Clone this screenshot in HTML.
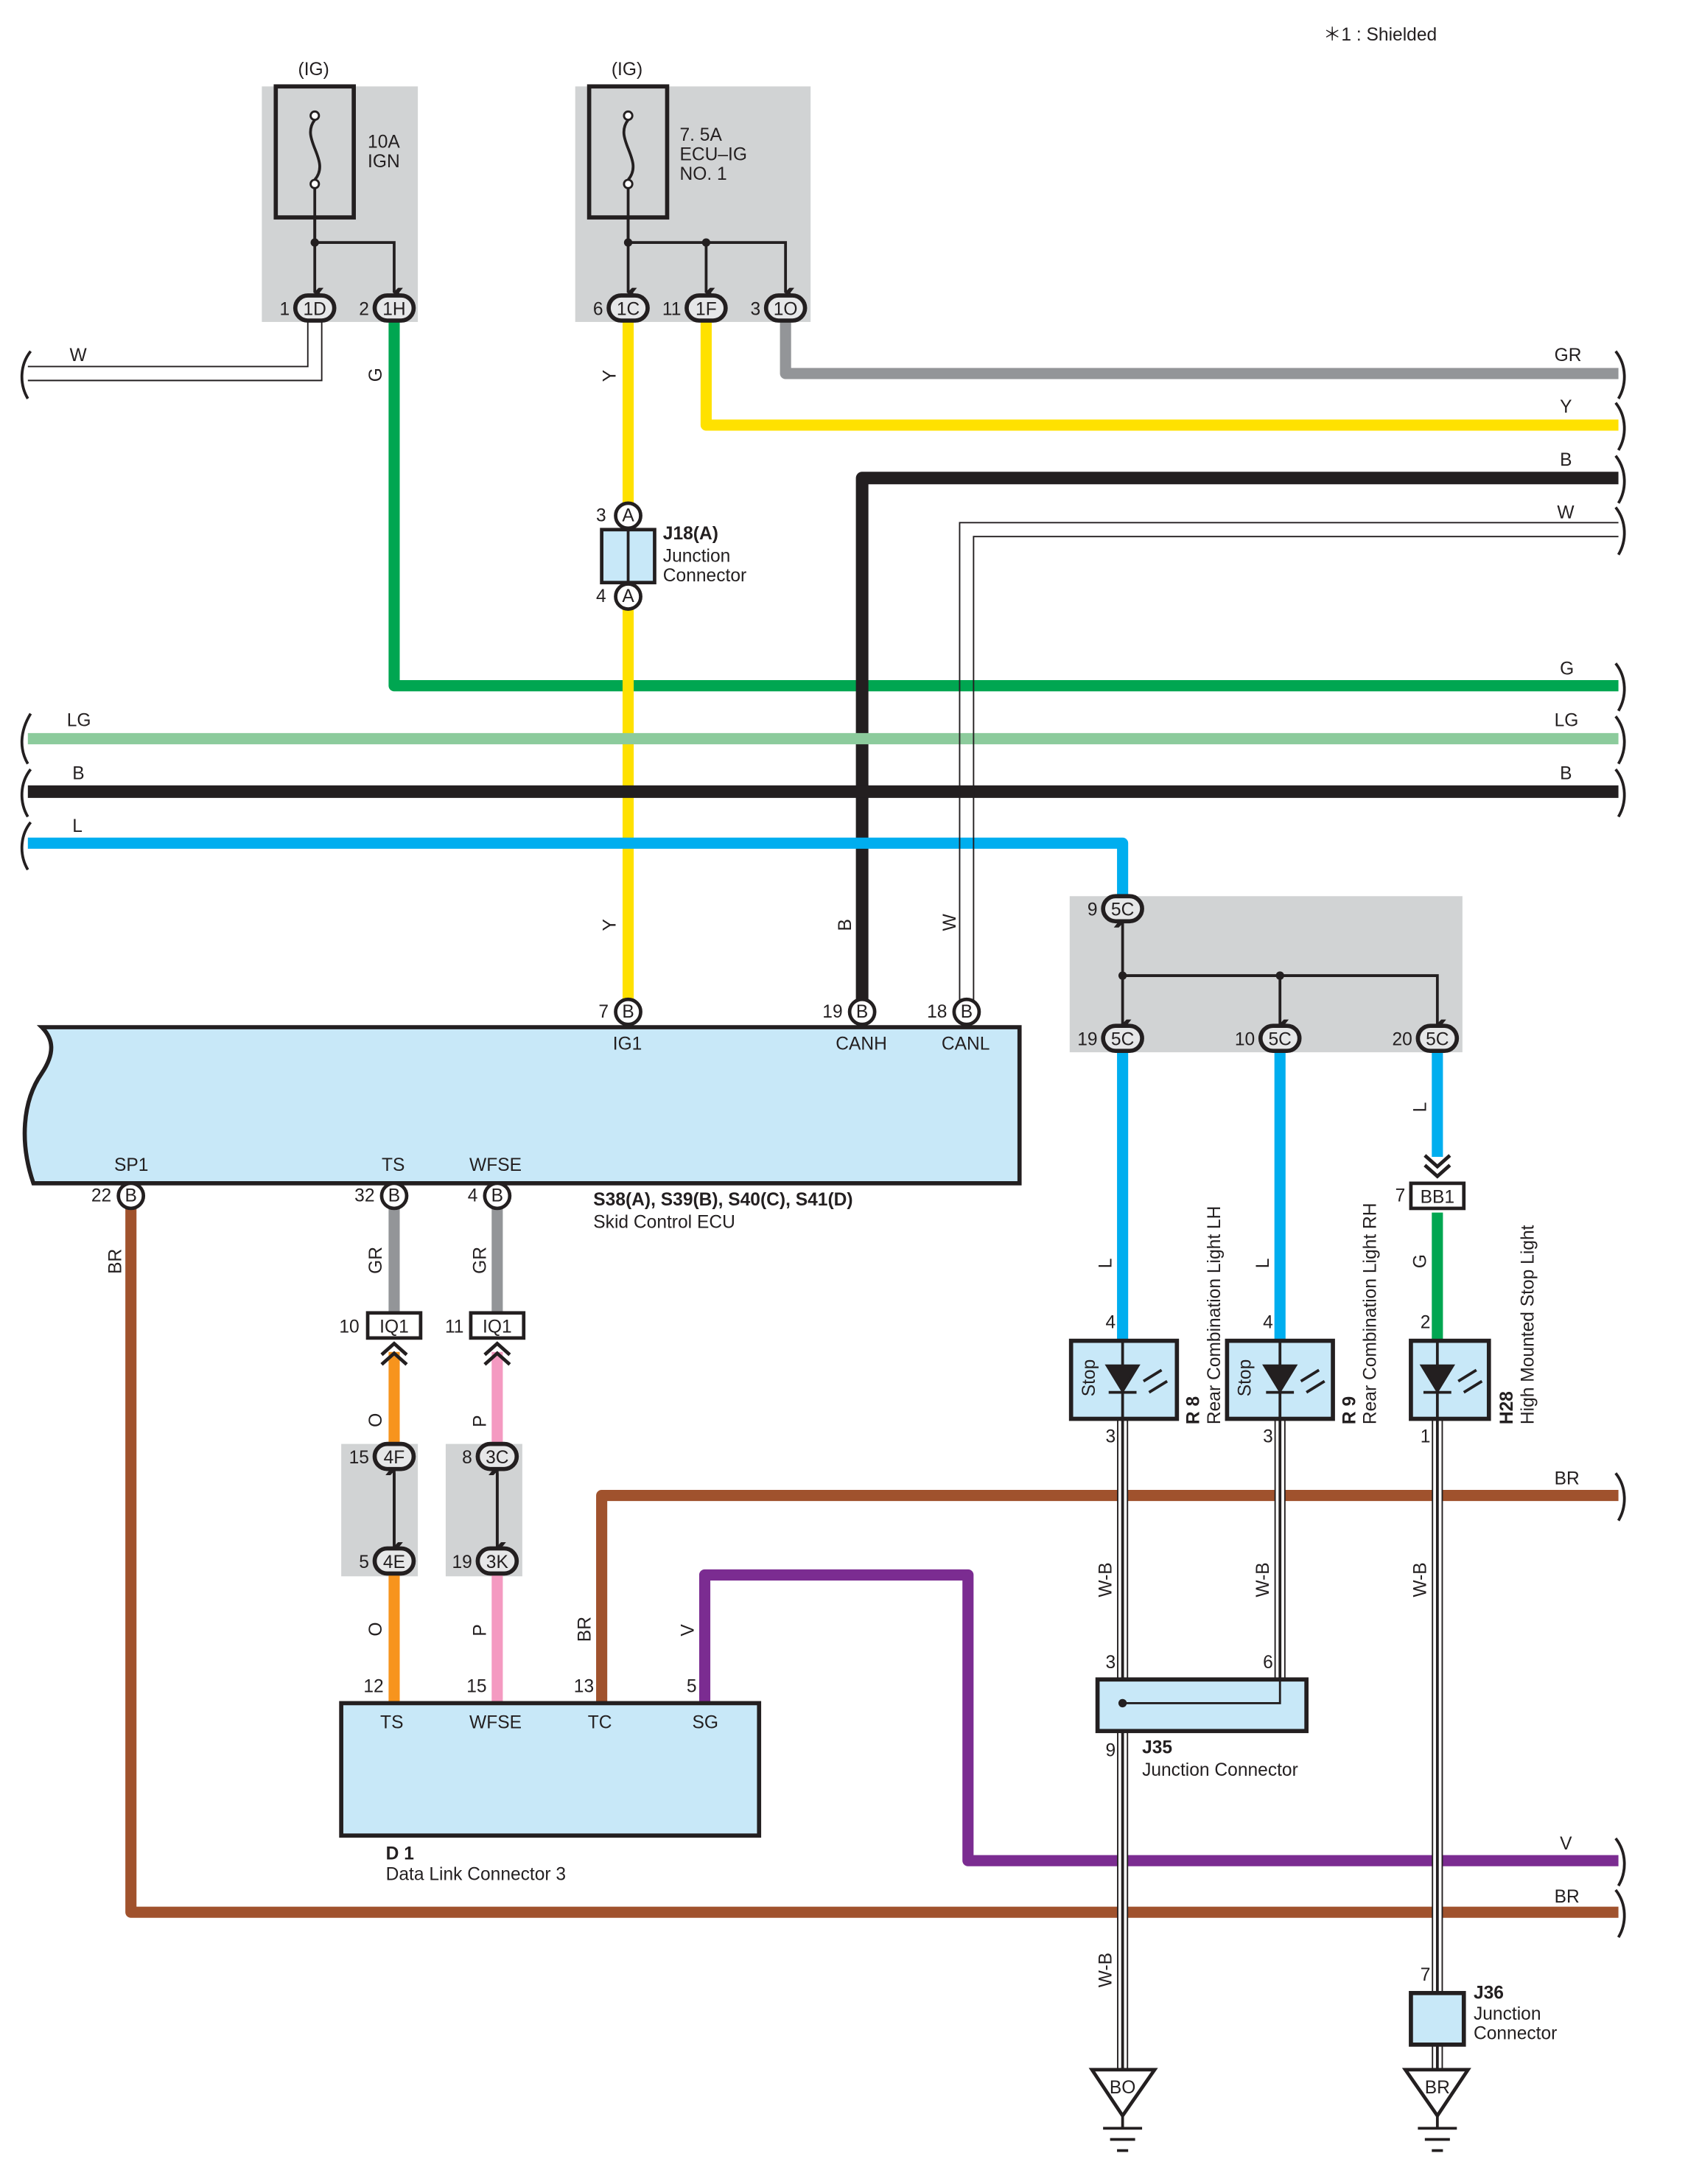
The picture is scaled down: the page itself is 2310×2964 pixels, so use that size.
<!DOCTYPE html>
<html><head><meta charset="utf-8"><style>
html,body{margin:0;padding:0;background:#fff}
svg{display:block}
text{font-family:"Liberation Sans",sans-serif;font-size:13px;fill:#231f20}
</style></head><body>
<svg width="2310" height="2964" viewBox="0 0 1222 1567" preserveAspectRatio="none" xmlns="http://www.w3.org/2000/svg">
<defs>
<marker id="a" viewBox="0 0 10 10" refX="5" refY="9" markerWidth="7" markerHeight="7" markerUnits="userSpaceOnUse" orient="auto"><path d="M0,0 L5,4 L10,0 L10,5 L5,10 L0,5Z" fill="#231f20"/></marker>
</defs>
<text x="950" y="29" font-size="13">＊1 : Shielded</text>
<rect x="188" y="62" width="112" height="169" fill="#d1d3d4"/>
<rect x="413" y="62" width="169" height="169" fill="#d1d3d4"/>
<rect x="768" y="643" width="282" height="112" fill="#d1d3d4"/>
<rect x="245" y="1036" width="55" height="95" fill="#d1d3d4"/>
<rect x="320" y="1036" width="55" height="95" fill="#d1d3d4"/>
<text x="214" y="54">(IG)</text><text x="439" y="54">(IG)</text>
<rect x="198" y="62" width="56" height="94" fill="none" stroke="#231f20" stroke-width="3"/>
<rect x="423" y="62" width="56" height="94" fill="none" stroke="#231f20" stroke-width="3"/>
<path d="M226,86 C215,100 238,115 226,129 M451,86 C440,100 463,115 451,129" fill="none" stroke="#231f20" stroke-width="2"/>
<g fill="#fff" stroke="#231f20" stroke-width="1.5"><circle cx="226" cy="83" r="3"/><circle cx="226" cy="132" r="3"/><circle cx="451" cy="83" r="3"/><circle cx="451" cy="132" r="3"/></g>
<text x="264" y="106">10A</text><text x="264" y="120">IGN</text>
<text x="488" y="101">7. 5A</text><text x="488" y="115">ECU–IG</text><text x="488" y="129">NO. 1</text>
<g stroke="#231f20" stroke-width="2" fill="none">
<path d="M226,135 V174 H283 V210" marker-end="url(#a)"/><path d="M226,156 V210" marker-end="url(#a)"/>
<path d="M451,135 V174 H564 V210" marker-end="url(#a)"/><path d="M451,156 V210" marker-end="url(#a)"/><path d="M507,174 V210" marker-end="url(#a)"/>
<path d="M806,700 H1032 V735" marker-end="url(#a)"/><path d="M806,700 V735" marker-end="url(#a)"/><path d="M919,700 V735" marker-end="url(#a)"/><path d="M806,700 V662" marker-end="url(#a)"/>
<path d="M283,1057 V1110" marker-end="url(#a)"/><path d="M283,1108 V1055" marker-end="url(#a)"/>
<path d="M357,1057 V1110" marker-end="url(#a)"/><path d="M357,1108 V1055" marker-end="url(#a)"/>
</g>
<g fill="#231f20"><circle cx="226" cy="174" r="3"/><circle cx="451" cy="174" r="3"/><circle cx="507" cy="174" r="3"/><circle cx="806" cy="700" r="3"/><circle cx="919" cy="700" r="3"/></g>
<g fill="none" stroke-width="8" stroke-linejoin="round">
<path d="M283,230 V492 H1162" stroke="#00a651"/>
<path d="M451,230 V370 M451,430 V726" stroke="#ffe100"/>
<path d="M507,230 V305 H1162" stroke="#ffe100"/>
<path d="M564,230 V268 H1162" stroke="#939598"/>
<path d="M1162,343 H619 V726" stroke="#231f20" stroke-width="9"/>
<path d="M20,530 H1162" stroke="#8ccb9c"/>
<path d="M20,568 H1162" stroke="#231f20" stroke-width="9"/>
<path d="M20,605 H806 V652" stroke="#00aeef"/>
<path d="M806,745 V962 M919,745 V962 M1032,745 V830" stroke="#00aeef"/>
<path d="M1032,870 V962" stroke="#00a651"/>
<path d="M94,858 V1372 H1162" stroke="#a0522d"/>
<path d="M283,858 V942" stroke="#939598"/><path d="M357,858 V942" stroke="#939598"/>
<path d="M283,970 V1045 M283,1120 V1222" stroke="#f7941d"/>
<path d="M357,970 V1045 M357,1120 V1222" stroke="#f49ac1"/>
<path d="M432,1222 V1073 H1162" stroke="#a0522d"/>
<path d="M506,1222 V1130 H695 V1335 H1162" stroke="#7b2c91"/>
</g>
<g fill="none" stroke="#231f20" stroke-width="1">
<path d="M20,263 H221 V230 M20,273 H231 V230"/>
<path d="M1162,375 H689 V718 M1162,385 H699 V718"/>
</g>
<g fill="none">
<path d="M806,1018 V1485 M919,1018 V1220" stroke="#231f20" stroke-width="8"/>
<path d="M806,1018 V1485 M919,1018 V1220" stroke="#fff" stroke-width="6"/>
<path d="M806,1018 V1485 M919,1018 V1220" stroke="#231f20" stroke-width="2"/>
<path d="M1032,1018 V1485" stroke="#231f20" stroke-width="8"/><path d="M1032,1018 V1485" stroke="#fff" stroke-width="6"/><path d="M1032,1018 V1485" stroke="#231f20" stroke-width="2"/>
</g>
<g fill="none" stroke="#231f20" stroke-width="2">
<path d="M22,252 C14,262 14,276 20,286"/>
<path d="M22,512 C14,525 14,538 20,548"/><path d="M22,552 C14,562 14,576 20,586"/><path d="M22,590 C14,600 14,614 20,624"/>
<path d="M1160,252 C1168,262 1168,276 1162,286"/><path d="M1160,289 C1168,299 1168,313 1162,323"/><path d="M1160,327 C1168,337 1168,351 1162,361"/><path d="M1160,364 C1168,374 1168,388 1162,398"/>
<path d="M1160,476 C1168,486 1168,500 1162,510"/><path d="M1160,514 C1168,524 1168,538 1162,548"/><path d="M1160,552 C1168,562 1168,576 1162,586"/>
<path d="M1160,1057 C1168,1067 1168,1081 1162,1091"/><path d="M1160,1319 C1168,1329 1168,1343 1162,1353"/><path d="M1160,1356 C1168,1366 1168,1380 1162,1390"/>
</g>
<text x="50" y="259">W</text><text x="1116" y="259">GR</text><text x="1120" y="296">Y</text><text x="1120" y="334">B</text><text x="1118" y="372">W</text>
<text x="1120" y="484">G</text><text x="1116" y="521">LG</text><text x="48" y="521">LG</text><text x="52" y="559">B</text><text x="1120" y="559">B</text><text x="52" y="597">L</text>
<text x="1116" y="1065">BR</text><text x="1120" y="1327">V</text><text x="1116" y="1365">BR</text>
<g font-size="12">
<text transform="translate(274,274) rotate(-90)">G</text><text transform="translate(442,274) rotate(-90)">Y</text>
<text transform="translate(442,668) rotate(-90)">Y</text><text transform="translate(611,668) rotate(-90)">B</text><text transform="translate(686,668) rotate(-90)">W</text>
<text transform="translate(798,910) rotate(-90)">L</text><text transform="translate(911,910) rotate(-90)">L</text><text transform="translate(1024,798) rotate(-90)">L</text><text transform="translate(1024,910) rotate(-90)">G</text>
<text transform="translate(87,914) rotate(-90)">BR</text><text transform="translate(274,914) rotate(-90)">GR</text><text transform="translate(349,914) rotate(-90)">GR</text>
<text transform="translate(274,1024) rotate(-90)">O</text><text transform="translate(349,1024) rotate(-90)">P</text>
<text transform="translate(274,1174) rotate(-90)">O</text><text transform="translate(349,1174) rotate(-90)">P</text>
<text transform="translate(424,1178) rotate(-90)">BR</text><text transform="translate(498,1174) rotate(-90)">V</text>
<text transform="translate(798,1146) rotate(-90)">W-B</text><text transform="translate(911,1146) rotate(-90)">W-B</text><text transform="translate(1024,1146) rotate(-90)">W-B</text><text transform="translate(798,1426) rotate(-90)">W-B</text>
</g>
<path d="M30,737 H732 V849 H24 C14,820 16,790 30,770 C40,755 38,745 30,737Z" fill="#c8e8f8" stroke="#231f20" stroke-width="3"/>
<text x="440" y="753">IG1</text><text x="600" y="753">CANH</text><text x="676" y="753">CANL</text>
<text x="82" y="840">SP1</text><text x="274" y="840">TS</text><text x="337" y="840">WFSE</text>
<text x="426" y="865" font-weight="bold">S38(A), S39(B), S40(C), S41(D)</text><text x="426" y="881">Skid Control ECU</text>
<rect x="245" y="1222" width="300" height="95" fill="#c8e8f8" stroke="#231f20" stroke-width="3"/>
<text x="273" y="1240">TS</text><text x="337" y="1240">WFSE</text><text x="422" y="1240">TC</text><text x="497" y="1240">SG</text>
<text x="261" y="1214">12</text><text x="335" y="1214">15</text><text x="412" y="1214">13</text><text x="493" y="1214">5</text>
<text x="277" y="1334" font-weight="bold">D 1</text><text x="277" y="1349">Data Link Connector 3</text>
<rect x="432" y="380" width="38" height="38" fill="#c8e8f8" stroke="#231f20" stroke-width="2.5"/><line x1="451" y1="380" x2="451" y2="418" stroke="#231f20" stroke-width="2"/>
<text x="476" y="387" font-weight="bold">J18(A)</text><text x="476" y="403">Junction</text><text x="476" y="417">Connector</text>
<text x="428" y="374">3</text><text x="428" y="432">4</text>
<g stroke="#231f20" stroke-width="3" fill="#e6e7e8">
<rect x="212" y="212" width="28" height="18" rx="9"/><rect x="269" y="212" width="28" height="18" rx="9"/>
<rect x="437" y="212" width="28" height="18" rx="9"/><rect x="493" y="212" width="28" height="18" rx="9"/><rect x="550" y="212" width="28" height="18" rx="9"/>
<rect x="792" y="643" width="28" height="18" rx="9"/><rect x="792" y="736" width="28" height="18" rx="9"/><rect x="905" y="736" width="28" height="18" rx="9"/><rect x="1018" y="736" width="28" height="18" rx="9"/>
<rect x="269" y="1036" width="28" height="18" rx="9"/><rect x="269" y="1111" width="28" height="18" rx="9"/><rect x="343" y="1036" width="28" height="18" rx="9"/><rect x="343" y="1111" width="28" height="18" rx="9"/>
</g>
<g stroke="#231f20" stroke-width="2.5" fill="#fff">
<circle cx="451" cy="370" r="9"/><circle cx="451" cy="428" r="9"/>
<circle cx="451" cy="726" r="9"/><circle cx="619" cy="726" r="9"/><circle cx="694" cy="726" r="9"/>
<circle cx="94" cy="858" r="9"/><circle cx="283" cy="858" r="9"/><circle cx="357" cy="858" r="9"/>
</g>
<g font-size="12" text-anchor="middle">
<text x="226" y="226">1D</text><text x="283" y="226">1H</text><text x="451" y="226">1C</text><text x="507" y="226">1F</text><text x="564" y="226">1O</text>
<text x="806" y="657">5C</text><text x="806" y="750">5C</text><text x="919" y="750">5C</text><text x="1032" y="750">5C</text>
<text x="283" y="1050">4F</text><text x="283" y="1125">4E</text><text x="357" y="1050">3C</text><text x="357" y="1125">3K</text>
<text x="451" y="374">A</text><text x="451" y="432">A</text><text x="451" y="730">B</text><text x="619" y="730">B</text><text x="694" y="730">B</text>
<text x="94" y="862">B</text><text x="283" y="862">B</text><text x="357" y="862">B</text>
</g>
<g text-anchor="end">
<text x="208" y="226">1</text><text x="265" y="226">2</text><text x="433" y="226">6</text><text x="489" y="226">11</text><text x="546" y="226">3</text>
<text x="788" y="657">9</text><text x="788" y="750">19</text><text x="901" y="750">10</text><text x="1014" y="750">20</text>
<text x="265" y="1050">15</text><text x="265" y="1125">5</text><text x="339" y="1050">8</text><text x="339" y="1125">19</text>
<text x="437" y="730">7</text><text x="605" y="730">19</text><text x="680" y="730">18</text>
<text x="80" y="862">22</text><text x="269" y="862">32</text><text x="343" y="862">4</text>
<text x="258" y="956">10</text><text x="333" y="956">11</text><text x="1009" y="862">7</text>
<text x="801" y="953">4</text><text x="914" y="953">4</text><text x="1027" y="953">2</text>
<text x="801" y="1035">3</text><text x="914" y="1035">3</text><text x="1027" y="1035">1</text>
<text x="801" y="1197">3</text><text x="914" y="1197">6</text><text x="801" y="1260">9</text><text x="1027" y="1421">7</text>
</g>
<g stroke="#231f20" stroke-width="2.5" fill="#fff"><rect x="264" y="942" width="38" height="18"/><rect x="338" y="942" width="38" height="18"/><rect x="1013" y="849" width="38" height="18"/></g>
<g font-size="12" text-anchor="middle"><text x="283" y="956">IQ1</text><text x="357" y="956">IQ1</text><text x="1032" y="863">BB1</text></g>
<g fill="none" stroke="#231f20" stroke-width="2.5"><path d="M274,972 L283,964 L292,972 M274,979 L283,971 L292,979"/><path d="M348,972 L357,964 L366,972 M348,979 L357,971 L366,979"/><path d="M1023,829 L1032,837 L1041,829 M1023,836 L1032,844 L1041,836"/></g>
<g>
<rect x="769" y="962" width="76" height="56" fill="#c8e8f8" stroke="#231f20" stroke-width="3"/>
<rect x="881" y="962" width="76" height="56" fill="#c8e8f8" stroke="#231f20" stroke-width="3"/>
<rect x="1013" y="962" width="56" height="56" fill="#c8e8f8" stroke="#231f20" stroke-width="3"/>
<g stroke="#231f20" stroke-width="2" fill="#231f20">
<path d="M806,962 V1018 M796,999 H816 M919,962 V1018 M909,999 H929 M1032,962 V1018 M1022,999 H1042"/>
<path d="M795,980 H817 L806,998Z M908,980 H930 L919,998Z M1021,980 H1043 L1032,998Z"/>
<path d="M821,991 L834,983 M825,999 L838,991 M934,991 L947,983 M938,999 L951,991 M1047,991 L1060,983 M1051,999 L1064,991"/>
</g>
<g font-size="12"><text transform="translate(786,1002) rotate(-90)">Stop</text><text transform="translate(898,1002) rotate(-90)">Stop</text></g>
<text transform="translate(861,1022) rotate(-90)" font-weight="bold">R 8</text><text transform="translate(876,1022) rotate(-90)">Rear Combination Light LH</text>
<text transform="translate(973,1022) rotate(-90)" font-weight="bold">R 9</text><text transform="translate(988,1022) rotate(-90)">Rear Combination Light RH</text>
<text transform="translate(1086,1022) rotate(-90)" font-weight="bold">H28</text><text transform="translate(1101,1022) rotate(-90)">High Mounted Stop Light</text>
</g>
<rect x="788" y="1205" width="150" height="37" fill="#c8e8f8" stroke="#231f20" stroke-width="3"/>
<path d="M806,1222 H919 V1205" fill="none" stroke="#231f20" stroke-width="1.5"/><circle cx="806" cy="1222" r="3" fill="#231f20"/>
<text x="820" y="1258" font-weight="bold">J35</text><text x="820" y="1274">Junction Connector</text>
<rect x="1013" y="1430" width="38" height="37" fill="#c8e8f8" stroke="#231f20" stroke-width="3"/>
<text x="1058" y="1434" font-weight="bold">J36</text><text x="1058" y="1449">Junction</text><text x="1058" y="1463">Connector</text>
<g stroke="#231f20" stroke-width="2.5" fill="#fff">
<path d="M784,1485 H829 L806,1518Z"/><path d="M1009,1485 H1054 L1032,1518Z"/>
</g>
<g stroke="#231f20" stroke-width="2"><path d="M792,1527 H820 M797,1535 H815 M802,1543 H810 M1018,1527 H1046 M1023,1535 H1041 M1028,1543 H1036 M806,1518 V1527 M1032,1518 V1527"/></g>
<g font-size="12" text-anchor="middle"><text x="806" y="1502">BO</text><text x="1032" y="1502">BR</text></g>
</svg>
</body></html>
